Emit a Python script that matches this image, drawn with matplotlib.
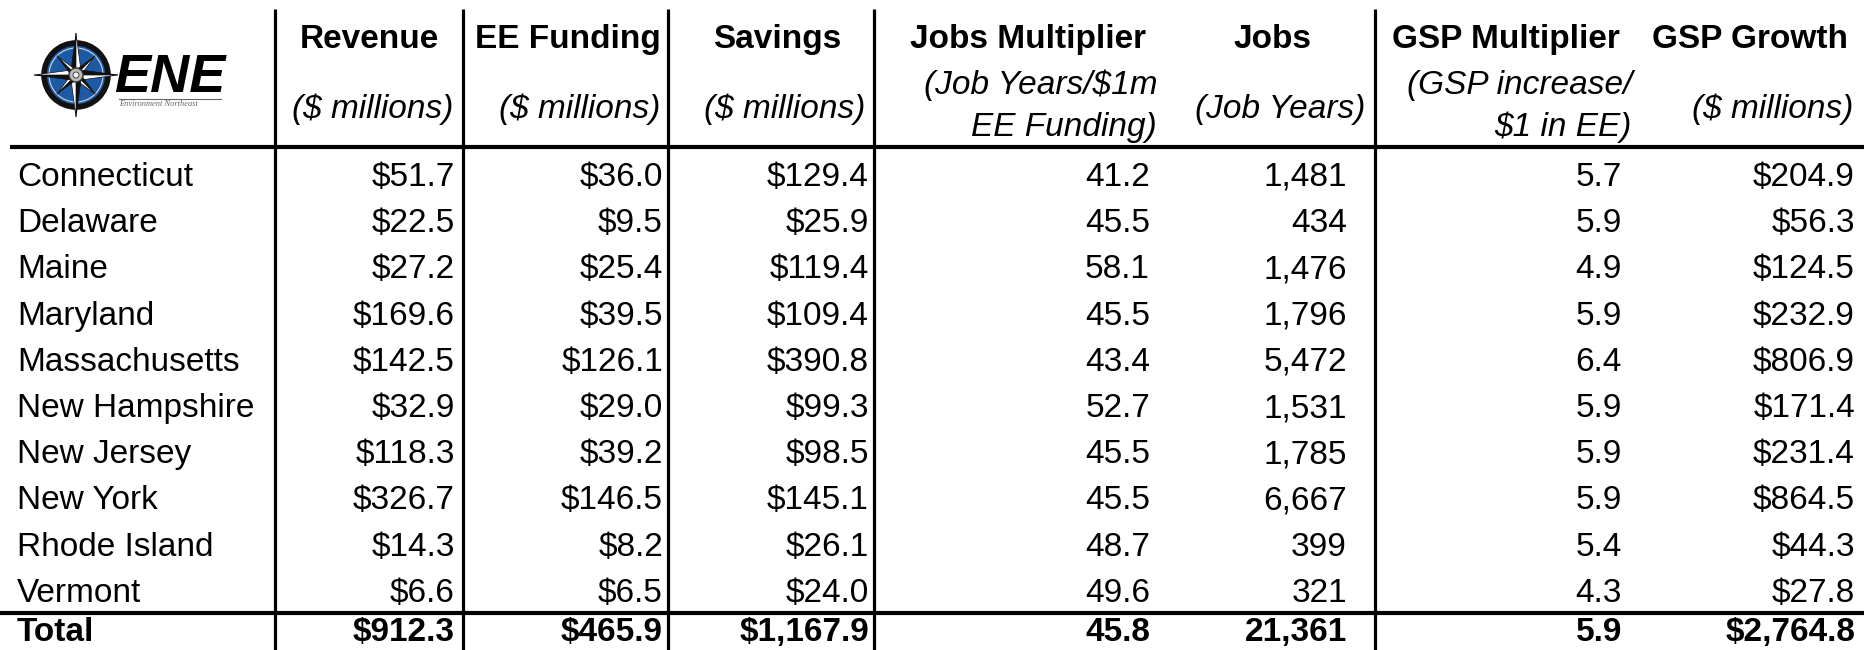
import numpy as np
import matplotlib.pyplot as plt
from matplotlib.patches import Circle, Polygon

states = ["Connecticut", "Delaware", "Maine", "Maryland", "Massachusetts",
          "New Hampshire", "New Jersey", "New York", "Rhode Island", "Vermont"]
revenue = [51.7, 22.5, 27.2, 169.6, 142.5, 32.9, 118.3, 326.7, 14.3, 6.6]
ee_funding = [36.0, 9.5, 25.4, 39.5, 126.1, 29.0, 39.2, 146.5, 8.2, 6.5]
savings = [129.4, 25.9, 119.4, 109.4, 390.8, 99.3, 98.5, 145.1, 26.1, 24.0]
jobs_mult = [41.2, 45.5, 58.1, 45.5, 43.4, 52.7, 45.5, 45.5, 48.7, 49.6]
jobs = [1481, 434, 1476, 1796, 5472, 1531, 1785, 6667, 399, 321]
gsp_mult = [5.7, 5.9, 4.9, 5.9, 6.4, 5.9, 5.9, 5.9, 5.4, 4.3]
gsp_growth = [204.9, 56.3, 124.5, 232.9, 806.9, 171.4, 231.4, 864.5, 44.3, 27.8]
totals = [912.3, 465.9, 1167.9, 45.8, 21361, 5.9, 2764.8]

headers = ["Revenue", "EE Funding", "Savings", "Jobs Multiplier", "Jobs",
           "GSP Multiplier", "GSP Growth"]
subheaders = [["($ millions)"], ["($ millions)"], ["($ millions)"],
              ["(Job Years/$1m", "EE Funding)"], ["(Job Years)"],
              ["(GSP increase/", "$1 in EE)"], ["($ millions)"]]

FONT = "Liberation Sans"
FS = 24

fig = plt.figure(figsize=(18.64, 6.5), dpi=100)
ax = fig.add_axes([0, 0, 1, 1])
ax.set_xlim(0, 1864)
ax.set_ylim(650, 0)
ax.axis("off")

# column geometry (pixels)
col_right = [455, 663, 869, 1150, 1347, 1622, 1855]
head_x = [369, 568, 777, 1028, 1272, 1506, 1750]
sub_right = [453, 660, 865, 1157, 1365, 1632, 1853]

fmts = [lambda v: f"${v:,.1f}"] * 3 + [lambda v: f"{v:.1f}", lambda v: f"{v:,.0f}",
                                       lambda v: f"{v:.1f}", lambda v: f"${v:,.1f}"]
columns = [revenue, ee_funding, savings, jobs_mult, jobs, gsp_mult, gsp_growth]

# grid lines
for x in [275, 463, 668, 874, 1375]:
    ax.plot([x, x], [9, 650], color="black", lw=2.3, solid_capstyle="butt")
ax.plot([10, 1864], [147, 147], color="black", lw=3, solid_capstyle="butt")
ax.plot([0, 1864], [613, 613], color="black", lw=3, solid_capstyle="butt")

# headers
for i, h in enumerate(headers):
    ax.text(head_x[i], 48, h, ha="center", va="baseline", fontsize=FS,
            fontweight="bold", family=FONT)
    lines = subheaders[i]
    ys = [118] if len(lines) == 1 else [94, 136]
    for s, y in zip(lines, ys):
        ax.text(sub_right[i], y, s, ha="right", va="baseline", fontsize=FS,
                style="italic", family=FONT)

# body rows
row_y = 174 + 46.2 * np.arange(len(states))
for r, name in enumerate(states):
    ax.text(17, row_y[r] + 12, name, ha="left", va="baseline", fontsize=FS, family=FONT)
    for c, col in enumerate(columns):
        ax.text(col_right[c], row_y[r] + 12, fmts[c](col[r]), ha="right",
                va="baseline", fontsize=FS, family=FONT)

# total row
ax.text(17, 641, "Total", ha="left", va="baseline", fontsize=FS, family=FONT,
        fontweight="bold")
for c, v in enumerate(totals):
    ax.text(col_right[c], 641, fmts[c](v), ha="right", va="baseline", fontsize=FS,
            family=FONT, fontweight="bold")

# ENE logo
cx, cy = 76, 75
ax.add_patch(Circle((cx, cy), 32, facecolor="#1d5aa6", edgecolor="#111111", lw=4))
ax.add_patch(Circle((cx, cy), 27, facecolor="none", edgecolor="#cfd6e0", lw=0.8))
for k in range(8):
    th = np.pi / 2 - k * np.pi / 4
    L = 42 if k % 2 == 0 else 27
    w = 7 if k % 2 == 0 else 5
    tip = (cx + L * np.cos(th), cy - L * np.sin(th))
    s1 = (cx + w * np.cos(th + np.pi / 4), cy - w * np.sin(th + np.pi / 4))
    s2 = (cx + w * np.cos(th - np.pi / 4), cy - w * np.sin(th - np.pi / 4))
    ax.add_patch(Polygon([(cx, cy), tip, s1], closed=True, facecolor="#111111",
                         edgecolor="#111111", lw=0.5))
    ax.add_patch(Polygon([(cx, cy), tip, s2], closed=True, facecolor="white",
                         edgecolor="#111111", lw=0.5))
ax.add_patch(Circle((cx, cy), 7, facecolor="#bbbbbb", edgecolor="#333333", lw=1))
ax.add_patch(Circle((cx, cy), 3, facecolor="#eeeeee", edgecolor="#333333", lw=0.6))
ax.text(114, 78, "ENE", ha="left", va="center", fontsize=39, fontweight="bold",
        style="italic", family=FONT, color="black")
ax.plot([119, 221], [99, 99], color="#666666", lw=0.8)
ax.text(119, 104, "Environment Northeast", ha="left", va="center", fontsize=6,
        style="italic", family="Liberation Serif", color="#666666")

fig.savefig("out.png", dpi=100)
